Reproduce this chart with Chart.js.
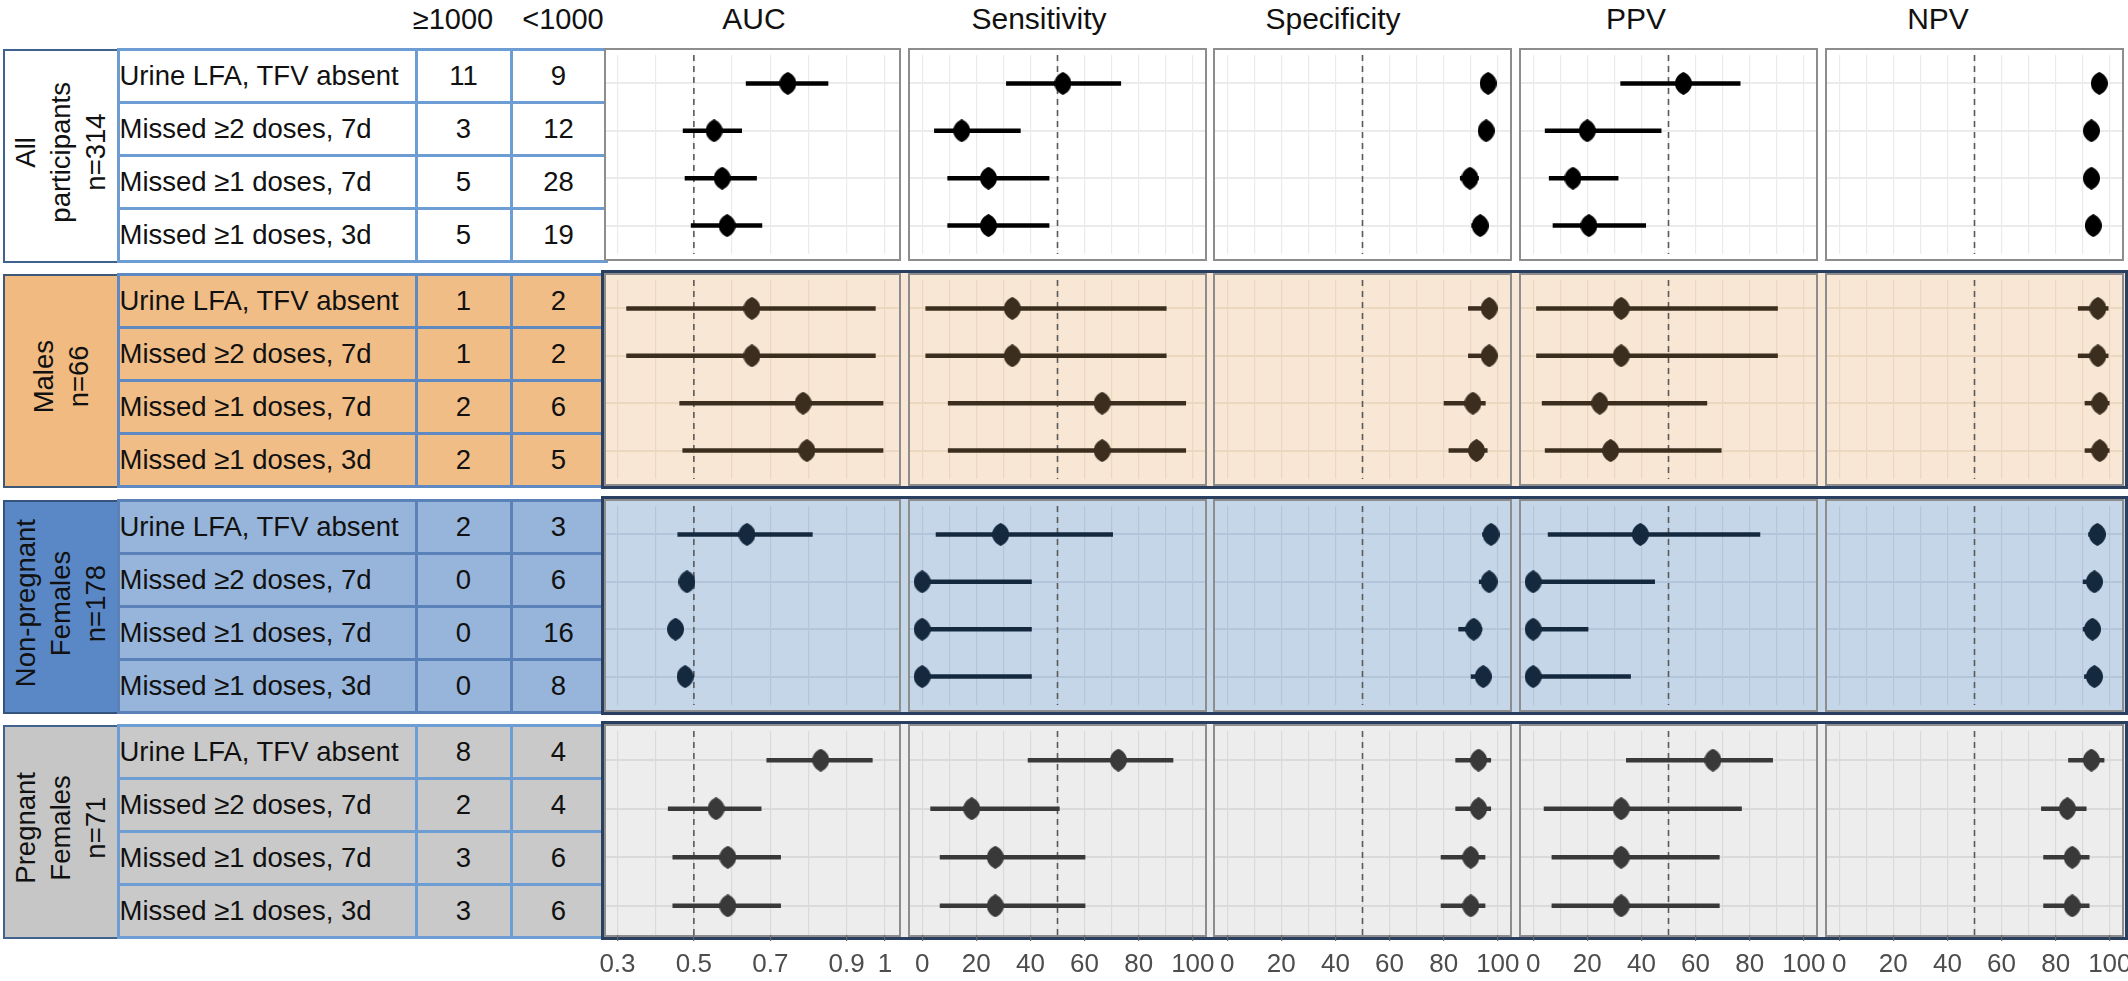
<!DOCTYPE html>
<html>
<head>
<meta charset="utf-8">
<script src="https://cdn.jsdelivr.net/npm/chart.js@4.4.1/dist/chart.umd.min.js"></script>
<style>
  body { margin: 0; background: #fff; font-family: "Liberation Sans", Arial, sans-serif; }
  #wrap { position: relative; width: 2128px; height: 981px; overflow: hidden; }
  .hdr { position: absolute; top: 0; height: 38px; line-height: 38px; color: #111; transform: translateX(-50%); white-space: nowrap; }
  table.blk { position: absolute; left: 3px; width: 602px; border-collapse: collapse; table-layout: fixed; }
  table.blk td { padding: 0; font-size: 27.5px; color: #111; height: 50px; }
  td.grp { text-align: center; }
  .vlab { display: inline-block; writing-mode: vertical-rl; transform: rotate(180deg); line-height: 35px; font-size: 27.5px; text-align: center; }
  td.name { padding-left: 8px; white-space: nowrap; }
  td.num { text-align: center; }
  .frame { position: absolute; left: 604px; width: 1521px; height: 213px; }
  .panel { position: absolute; top: 0; height: 213px; box-sizing: border-box; border: 2px solid #8d8d8d; }
  .panel canvas { position: absolute; left: -30px; top: 0; }
</style>
</head>
<body>
<div id="wrap"></div>
<script>
// rows and groups
const groupLabels = [['All', 'participants', 'n=314'], ['Males', 'n=66'], ['Non-pregnant', 'Females', 'n=178'], ['Pregnant', 'Females', 'n=71']];
const tests = ['Urine LFA, TFV absent', 'Missed \u22652 doses, 7d', 'Missed \u22651 doses, 7d', 'Missed \u22651 doses, 3d'];
const countHigh = [[11, 3, 5, 5], [1, 1, 2, 2], [2, 0, 0, 0], [8, 2, 3, 3]];
const countLow = [[9, 12, 28, 19], [2, 2, 6, 5], [3, 6, 16, 8], [4, 4, 6, 6]];
const metrics = ['AUC', 'Sensitivity', 'Specificity', 'PPV', 'NPV'];
const refValues = [0.5, 50, 50, 50, 50];

// estimates and 95% CI, [group][test]
const aucEst = [[0.746, 0.553, 0.574, 0.587], [0.652, 0.652, 0.786, 0.796], [0.639, 0.482, 0.452, 0.477], [0.832, 0.558, 0.589, 0.589]];
const aucLo  = [[0.636, 0.471, 0.476, 0.492], [0.323, 0.323, 0.462, 0.470], [0.457, 0.482, 0.452, 0.477], [0.690, 0.432, 0.444, 0.444]];
const aucHi  = [[0.852, 0.626, 0.665, 0.679], [0.976, 0.976, 0.996, 0.996], [0.811, 0.482, 0.452, 0.477], [0.968, 0.677, 0.728, 0.728]];

const senEst = [[52, 14.6, 24.5, 24.5], [33.3, 33.3, 66.5, 66.5], [29, 0, 0, 0], [72.5, 18.3, 27, 27]];
const senLo  = [[31, 4.4, 9.3, 9.3], [1.2, 1.2, 9.5, 9.5], [5, 0, 0, 0], [39, 3, 6.5, 6.5]];
const senHi  = [[73.5, 36.4, 47, 47], [90.3, 90.3, 97.5, 97.5], [70.5, 40.5, 40.5, 40.5], [92.8, 50.8, 60.3, 60.3]];

const speEst = [[96.4, 95.7, 89.7, 93.5], [96.8, 96.8, 90.8, 92.1], [97.5, 96.8, 91.1, 94.6], [92.9, 92.9, 90, 90]];
const speLo  = [[94, 93, 86, 90.2], [89, 89, 80, 81.8], [94.2, 93, 85.4, 90], [84.3, 84.3, 78.9, 78.9]];
const speHi  = [[98.4, 97.8, 93, 96], [99.6, 99.6, 95.5, 96.2], [99.3, 98.8, 94.3, 97.3], [97.5, 97.5, 95.4, 95.4]];

const ppvEst = [[55.5, 20, 14.7, 20.6], [32.5, 32.5, 24.6, 28.6], [39.6, 0, 0, 0], [66.4, 32.5, 32.5, 32.5]];
const ppvLo  = [[32.2, 4.3, 5.8, 7.2], [1.1, 1.1, 3.2, 4.3], [5.4, 0, 0, 0], [34.3, 3.9, 6.8, 6.8]];
const ppvHi  = [[76.6, 47.4, 31.5, 41.7], [90.4, 90.4, 64.3, 69.6], [83.9, 45, 20.4, 36.1], [88.6, 77.1, 68.9, 68.9]];

const npvEst = [[96.1, 93.2, 93.2, 93.9], [95.6, 95.6, 96.3, 96.3], [95.4, 94.3, 93.6, 94.3], [93.2, 84.3, 86.1, 86.1]];
const npvLo  = [[93.5, 90.5, 90.5, 91], [88.2, 88.2, 90.7, 90.7], [92, 90, 90, 90.5], [84.6, 74.6, 75.4, 75.4]];
const npvHi  = [[98, 96, 96, 96.5], [99.5, 99.5, 99.9, 99.9], [98, 97, 96.5, 97], [98, 91.4, 92.5, 92.5]];

// x axis ticks
const aucTicks = [0.3, 0.4, 0.5, 0.6, 0.7, 0.8, 0.9, 1.0];
const aucTickLabels = ['0.3', '', '0.5', '', '0.7', '', '0.9', '1'];
const pctTicks = [0, 10, 20, 30, 40, 50, 60, 70, 80, 90, 100];
const pctTickLabels = ['0', '', '20', '', '40', '', '60', '', '80', '', '100'];

const metricData = [
  { est: aucEst, lo: aucLo, hi: aucHi, ticks: aucTicks, labels: aucTickLabels, min: 0.27, max: 1.037 },
  { est: senEst, lo: senLo, hi: senHi, ticks: pctTicks, labels: pctTickLabels, min: -4.5, max: 104.5 },
  { est: speEst, lo: speLo, hi: speHi, ticks: pctTicks, labels: pctTickLabels, min: -4.5, max: 104.5 },
  { est: ppvEst, lo: ppvLo, hi: ppvHi, ticks: pctTicks, labels: pctTickLabels, min: -4.5, max: 104.5 },
  { est: npvEst, lo: npvLo, hi: npvHi, ticks: pctTicks, labels: pctTickLabels, min: -4.5, max: 104.5 }
];

// layout + look
const blockTop = [48, 273, 499, 724];
const panelX = [0, 304, 609, 915, 1221];
const panelW = [297, 299, 299, 299, 299];
const titleX = [754, 1039, 1333, 1636, 1938];
const pointColor = ['#000000', '#3b2e1e', '#14283e', '#393939'];
const plotBg = ['#ffffff', '#f8e7d4', '#c6d6e9', '#ededed'];
const gridColor = ['#ebebeb', '#ecd7c0', '#b3c5db', '#dadada'];
const frameColor = [null, '#2a3f5f', '#2a3f5f', '#2a3f5f'];
const cellBg = ['#ffffff', '#f1bd86', '#97b5da', '#c9c9c9'];
const grpBg = ['#ffffff', '#f0ba80', '#5a88c6', '#c6c6c6'];
const cellBorder = ['#6e9dd4', '#5f89c2', '#5b82b8', '#6e9dd4'];
const grpBorder = ['#40628f', '#3e5878', '#34547e', '#40628f'];

const wrap = document.getElementById('wrap');

function addHeader(text, x, size) {
  const d = document.createElement('div');
  d.className = 'hdr';
  d.style.left = x + 'px';
  d.style.fontSize = size + 'px';
  d.textContent = text;
  wrap.appendChild(d);
}
addHeader('\u22651000', 453, 29);
addHeader('<1000', 563, 29);
metrics.forEach((m, i) => addHeader(m, titleX[i], 30));

// oval marker, a little pointed at top and bottom
function ovalImg(color) {
  const c = document.createElement('canvas');
  c.width = 17; c.height = 23;
  const x = c.getContext('2d');
  x.fillStyle = color;
  x.beginPath();
  x.moveTo(8.5, 0);
  x.bezierCurveTo(12.5, 1.5, 17, 6, 17, 11.5);
  x.bezierCurveTo(17, 17, 12.5, 21.5, 8.5, 23);
  x.bezierCurveTo(4.5, 21.5, 0, 17, 0, 11.5);
  x.bezierCurveTo(0, 6, 4.5, 1.5, 8.5, 0);
  x.fill();
  return c;
}

groupLabels.forEach((lab, g) => {
  // table part
  const t = document.createElement('table');
  t.className = 'blk';
  t.style.top = blockTop[g] + 'px';
  t.style.height = '213px';
  let html = '<colgroup><col style="width:114px"><col style="width:298px"><col style="width:95px"><col style="width:95px"></colgroup>';
  tests.forEach((name, r) => {
    const b = '3px solid ' + cellBorder[g];
    html += '<tr>';
    if (r === 0) {
      html += `<td class="grp" rowspan="4" style="background:${grpBg[g]};border:2px solid ${grpBorder[g]}"><div class="vlab">${lab.join('<br>')}</div></td>`;
    }
    html += `<td class="name" style="background:${cellBg[g]};border:${b}">${name}</td>`;
    html += `<td class="num" style="background:${cellBg[g]};border:${b}">${countHigh[g][r]}</td>`;
    html += `<td class="num" style="background:${cellBg[g]};border:${b}">${countLow[g][r]}</td>`;
    html += '</tr>';
  });
  t.innerHTML = html;
  wrap.appendChild(t);

  // plot frame
  const f = document.createElement('div');
  f.className = 'frame';
  f.style.top = blockTop[g] + 'px';
  f.style.background = g === 0 ? 'transparent' : plotBg[g];
  if (frameColor[g]) f.style.outline = '3px solid ' + frameColor[g];
  wrap.appendChild(f);

  const img = ovalImg(pointColor[g]);
  const last = g === groupLabels.length - 1;

  metrics.forEach((m, k) => {
    const md = metricData[k];
    const p = document.createElement('div');
    p.className = 'panel';
    p.style.left = panelX[k] + 'px';
    p.style.width = panelW[k] + 'px';
    p.style.background = plotBg[g];
    f.appendChild(p);

    const innerW = panelW[k] - 4;
    const innerH = 209;
    const cv = document.createElement('canvas');
    cv.width = innerW + 60;
    cv.height = innerH + (last ? 52 : 0);
    cv.style.width = cv.width + 'px';
    cv.style.height = cv.height + 'px';
    p.appendChild(cv);

    const est = md.est[g], lo = md.lo[g], hi = md.hi[g];
    const datasets = [
      {
        data: est.map((v, i) => ({ x: v, y: i + 1 })),
        pointStyle: img,
        order: 0
      }
    ];
    est.forEach((v, i) => {
      datasets.push({
        data: [{ x: lo[i], y: i + 1 }, { x: hi[i], y: i + 1 }],
        showLine: true,
        borderColor: pointColor[g],
        borderWidth: 4.5,
        pointRadius: 0,
        order: 1
      });
    });
    datasets.push({
      data: [{ x: refValues[k], y: 0.4 }, { x: refValues[k], y: 4.6 }],
      showLine: true,
      borderColor: '#5a5a5a',
      borderWidth: 1.6,
      borderDash: [6, 5],
      pointRadius: 0,
      order: 2
    });

    new Chart(cv, {
      type: 'scatter',
      data: { datasets: datasets },
      options: {
        responsive: false,
        animation: false,
        events: [],
        layout: { padding: { left: 30, right: 30, top: 0, bottom: 0 } },
        plugins: { legend: { display: false }, tooltip: { enabled: false } },
        scales: {
          x: {
            type: 'linear',
            min: md.min,
            max: md.max,
            border: { display: false },
            afterBuildTicks: s => { s.ticks = md.ticks.map(v => ({ value: v })); },
            afterFit: s => { s.height = last ? 52 : 0; },
            grid: {
              color: gridColor[g],
              lineWidth: 1.2,
              drawTicks: last,
              tickLength: 6,
              tickColor: c => (md.labels[c.index] ? '#666666' : 'rgba(0,0,0,0)')
            },
            ticks: {
              display: last,
              autoSkip: false,
              maxRotation: 0,
              padding: 8,
              color: '#4d4d4d',
              font: { family: '"Liberation Sans", Arial, sans-serif', size: 26 },
              callback: (v, i) => md.labels[i]
            }
          },
          y: {
            type: 'linear',
            min: 0.4,
            max: 4.6,
            reverse: true,
            border: { display: false },
            afterBuildTicks: s => { s.ticks = [1, 2, 3, 4].map(v => ({ value: v })); },
            afterFit: s => { s.width = 0; },
            grid: { color: gridColor[g], lineWidth: 2, drawTicks: false },
            ticks: { display: false }
          }
        }
      }
    });
  });
});
</script>
</body>
</html>
